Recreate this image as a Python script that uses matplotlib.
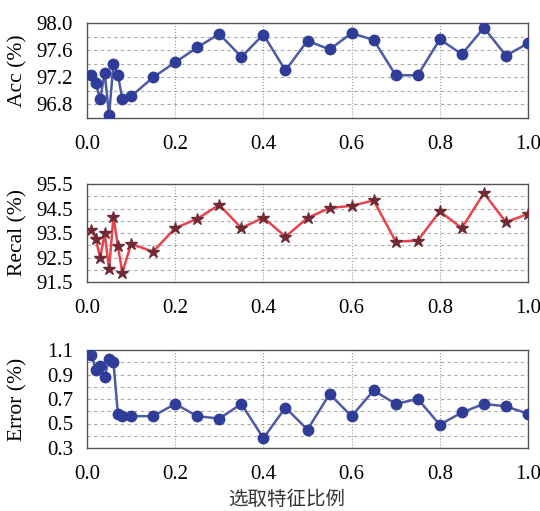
import matplotlib
matplotlib.use("Agg")
import matplotlib.pyplot as plt
from matplotlib.ticker import FormatStrFormatter

# feature ratio on the x axis (shared by all three panels)
ratio = [0.01, 0.02, 0.03, 0.04, 0.05, 0.06, 0.07, 0.08, 0.10, 0.15,
         0.20, 0.25, 0.30, 0.35, 0.40, 0.45, 0.50, 0.55, 0.60, 0.65,
         0.70, 0.75, 0.80, 0.85, 0.90, 0.95, 1.00]

acc = [97.23, 97.11, 96.88, 97.27, 96.64, 97.40, 97.24, 96.88, 96.92, 97.20,
       97.42, 97.64, 97.84, 97.50, 97.83, 97.30, 97.74, 97.61, 97.85, 97.75,
       97.23, 97.23, 97.76, 97.54, 97.93, 97.52, 97.70]

recal = [93.63, 93.26, 92.47, 93.49, 92.02, 94.17, 92.97, 91.88, 93.05, 92.74,
         93.70, 94.08, 94.65, 93.70, 94.13, 93.35, 94.11, 94.52, 94.61, 94.83,
         93.15, 93.19, 94.38, 93.70, 95.13, 93.94, 94.28]

error = [1.06, 0.94, 0.97, 0.88, 1.03, 1.00, 0.58, 0.56, 0.56, 0.56,
         0.66, 0.56, 0.54, 0.66, 0.38, 0.63, 0.45, 0.74, 0.56, 0.77,
         0.66, 0.70, 0.49, 0.59, 0.66, 0.64, 0.58]

x_ticks = [0.0, 0.2, 0.4, 0.6, 0.8, 1.0]
acc_ticks = [96.8, 97.2, 97.6, 98.0]
acc_grid = [96.8, 97.0, 97.2, 97.4, 97.6, 97.8]
recal_ticks = [91.5, 92.5, 93.5, 94.5, 95.5]
recal_grid = [92.0, 92.5, 93.0, 93.5, 94.0, 94.5, 95.0]
error_ticks = [0.3, 0.5, 0.7, 0.9, 1.1]
error_grid = [0.4, 0.5, 0.6, 0.7, 0.8, 0.9, 1.0]

plt.rcParams['font.family'] = ['Liberation Serif', 'DejaVu Serif']

fig = plt.figure(figsize=(5.4, 5.11), dpi=100)
W, H = 540, 511

def make_axes(top, bottom):
    left, right = 87, 528
    return fig.add_axes([left / W, 1 - bottom / H, (right - left) / W, (bottom - top) / H])

panels = [
    (acc, 'Acc (%)', (96.6, 98.0), acc_ticks, acc_grid, '#4d5aa6', 'o', '#2f3d98'),
    (recal, 'Recal (%)', (91.5, 95.5), recal_ticks, recal_grid, '#e8434c', '*', '#6e2a35'),
    (error, 'Error (%)', (0.3, 1.1), error_ticks, error_grid, '#4d5aa6', 'o', '#2f3d98'),
]
spans = [(23, 118), (184, 282), (350, 448)]

for (vals, ylab, ylim, ticks, grid, lc, mk, mc), (top, bottom) in zip(panels, spans):
    ax = make_axes(top, bottom)
    ax.plot(ratio, vals, color=lc, lw=1.8, marker=mk,
            markersize=7.5 if mk == 'o' else 9,
            markerfacecolor=mc, markeredgecolor=mc, zorder=3)
    ax.set_xlim(0, 1.0)
    ax.set_ylim(*ylim)
    ax.set_xticks(x_ticks)
    ax.set_yticks(ticks)
    ax.xaxis.set_major_formatter(FormatStrFormatter('%.1f'))
    ax.yaxis.set_major_formatter(FormatStrFormatter('%.1f'))
    # dashed horizontal grid drawn by hand at its own levels
    for g in grid:
        ax.axhline(g, color='#aaaaaa', linestyle=(0, (3, 3)), lw=0.8, zorder=1)
    ax.grid(axis='x', which='major', color='#9a9a9a', linestyle=':', lw=0.8)
    ax.tick_params(axis='both', which='both', length=0, labelsize=15)
    ax.tick_params(axis='x', pad=12)
    ax.tick_params(axis='y', pad=10)
    for s in ax.spines.values():
        s.set_color('#555555')
        s.set_linewidth(1.0)
    ax.set_ylabel(ylab, fontsize=15.5)
    ax.yaxis.set_label_coords(-0.134, 0.5)

fig.text(287 / W, 1 - 499 / H, '选取特征比例',
         family=['Noto Sans CJK SC', 'DejaVu Sans'], fontsize=14,
         ha='center', va='center', color='#333333')

fig.savefig('out.png', dpi=100)
